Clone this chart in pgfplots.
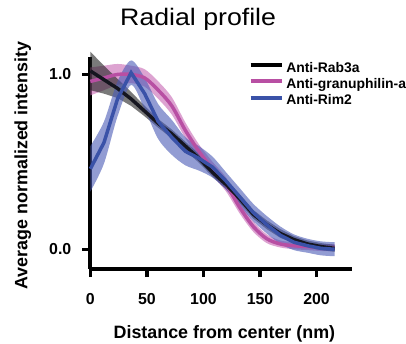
\documentclass[border=0pt]{standalone}
\usepackage{pgfplots}
\pgfplotsset{compat=1.18}
\usepackage{pgfplotstable}
\usepgfplotslibrary{fillbetween}
\usepackage{fontspec}
\setmainfont{Liberation Sans}
\definecolor{rabline}{HTML}{15151F}
\definecolor{rabband}{HTML}{222222}
\definecolor{granline}{HTML}{B84FA3}
\definecolor{granband}{HTML}{C766B3}
\definecolor{rimline}{HTML}{3A52A8}
\definecolor{rimband}{HTML}{4A5AB5}
\pgfplotstableread{
x y e
0 1.02 0.11
12 0.97 0.08
24 0.92 0.055
36 0.86 0.04
48 0.79 0.03
60 0.72 0.025
72 0.66 0.025
84 0.59 0.025
96 0.52 0.025
108 0.44 0.025
120 0.37 0.025
132 0.29 0.025
144 0.20 0.025
156 0.14 0.025
168 0.09 0.025
180 0.055 0.02
192 0.03 0.02
204 0.015 0.02
216 0.005 0.02
}\rab
\pgfplotstableread{
x y e
0 0.96 0.08
12 0.98 0.07
24 1.00 0.06
36 1.00 0.05
48 0.98 0.05
60 0.91 0.05
72 0.82 0.05
84 0.68 0.045
96 0.56 0.04
108 0.46 0.04
120 0.37 0.04
132 0.24 0.035
144 0.13 0.03
156 0.06 0.025
168 0.03 0.02
180 0.02 0.02
192 0.015 0.02
204 0.01 0.02
216 0.01 0.02
}\gran
\pgfplotstableread{
x y e
0 0.46 0.13
12 0.61 0.12
24 0.86 0.10
36 1.01 0.07
48 0.89 0.09
60 0.73 0.10
72 0.64 0.10
84 0.56 0.08
96 0.52 0.07
108 0.47 0.06
120 0.39 0.05
132 0.30 0.05
144 0.21 0.05
156 0.14 0.05
168 0.08 0.05
180 0.04 0.045
192 0.02 0.04
204 0.005 0.04
216 0.0 0.04
}\rim
\begin{document}
\begin{tikzpicture}
\begin{axis}[
  scale only axis, width=263pt, height=214pt,
  xmin=0, xmax=231, ymin=-0.114, ymax=1.102,
  clip=false,
  axis lines=left,
  axis line style={-, line width=4pt, black},
  every tick/.style={black, line width=3.5pt},
  major tick length=8pt,
  tick align=outside,
  xtick={0,50,100,150,200}, ytick={0,1},
  yticklabels={0.0,1.0},
  /pgf/number format/assume math mode=true,
  ticklabel style={font=\fontsize{16}{18}\selectfont\bfseries, inner sep=0pt},
  xticklabel style={anchor=base, yshift=-28pt},
  yticklabel style={anchor=east, xshift=-11pt},
  xlabel={Distance from center (nm)},
  ylabel={Average normalized intensity},
  label style={font=\fontsize{18}{21}\selectfont\bfseries, inner sep=0pt},
  xlabel style={at={(axis description cs:0.513,-0.3248)}, anchor=base},
  ylabel style={at={(axis description cs:-0.2414,0.488)}, anchor=base, rotate=0},
  title={\scalebox{1.12}[1]{Radial profile}},
  title style={font=\fontsize{24}{28}\selectfont, inner sep=0pt, at={(axis description cs:0.4125,1)}, anchor=base, yshift=25pt},
  legend style={at={(axis description cs:0.6046,0.977)}, anchor=north west, draw=none, fill=none,
    font=\fontsize{14}{16}\selectfont\bfseries, row sep=3pt, column sep=2pt, inner sep=0pt,
    nodes={inner sep=0pt, text height=10.5pt, text depth=3pt}},
  legend cell align=left,
  legend image code/.code={\draw[#1, line width=4pt] (0pt,3.5pt) -- (32pt,3.5pt);},
]
% pink
\addplot[draw=none, name path=gu, forget plot, smooth] table[x=x, y expr=\thisrow{y}+\thisrow{e}] {\gran};
\addplot[draw=none, name path=gl, forget plot, smooth] table[x=x, y expr=\thisrow{y}-\thisrow{e}] {\gran};
\addplot[fill=granband, fill opacity=0.6, forget plot] fill between[of=gu and gl];
\addplot[granline, line width=3.5pt, smooth, forget plot] table[x=x, y=y] {\gran};
% black
\addplot[draw=none, name path=ru, forget plot] table[x=x, y expr=\thisrow{y}+\thisrow{e}] {\rab};
\addplot[draw=none, name path=rl, forget plot] table[x=x, y expr=\thisrow{y}-\thisrow{e}] {\rab};
\addplot[fill=rabband, fill opacity=0.6, forget plot] fill between[of=ru and rl];
\addplot[rabline, line width=3.5pt, forget plot] table[x=x, y=y] {\rab};
% blue
\addplot[draw=none, name path=bu, forget plot, smooth] table[x=x, y expr=\thisrow{y}+\thisrow{e}] {\rim};
\addplot[draw=none, name path=bl, forget plot, smooth] table[x=x, y expr=\thisrow{y}-\thisrow{e}] {\rim};
\addplot[fill=rimband, fill opacity=0.6, forget plot] fill between[of=bu and bl];
\addplot[rimline, line width=3.5pt, forget plot] table[x=x, y=y] {\rim};
% legend
\addlegendimage{black}
\addlegendentry{Anti-Rab3a}
\addlegendimage{granline}
\addlegendentry{Anti-granuphilin-a}
\addlegendimage{rimline}
\addlegendentry{Anti-Rim2}
% page frame (invisible)
\path (axis description cs:-0.34601,-0.35047) rectangle (axis description cs:1.19772,1.26636);
\end{axis}
\end{tikzpicture}
\end{document}
